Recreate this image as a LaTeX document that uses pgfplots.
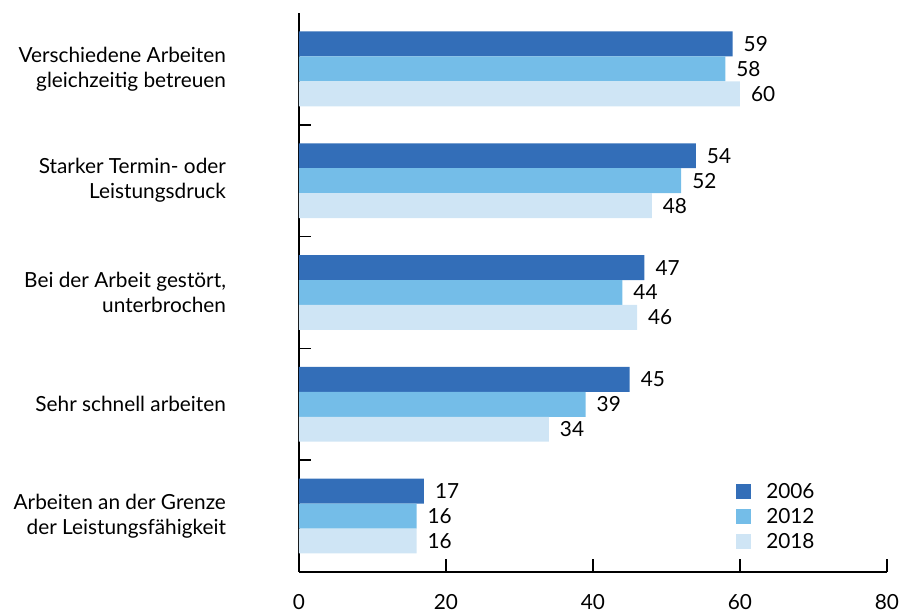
\documentclass[border=0pt]{standalone}
\usepackage{pgfplots}
\pgfplotsset{compat=1.18}
\usepackage{fontspec}
\setmainfont{Lato}
\definecolor{c06}{HTML}{336EB8}
\definecolor{c12}{HTML}{74BDE8}
\definecolor{c18}{HTML}{CFE5F5}
\begin{document}
\begin{tikzpicture}
\useasboundingbox (-149.5pt,-20.5pt) rectangle (301pt,286pt);
\begin{axis}[
  at={(0,0)}, anchor=south west,
  width=294pt, height=279.5pt, scale only axis,
  xbar, bar width=0.223,
  xmin=0, xmax=80, ymin=-0.5, ymax=4.5,
  axis x line*=bottom, axis y line*=left,
  axis line style={-, line width=0.75pt, black},
  tick align=inside,
  xtick={0,20,40,60,80},
  ytick={0,1,2,3,4},
  minor ytick={0.5,1.5,2.5,3.5},
  yticklabels={{Arbeiten an der Grenze\\der Leistungsfähigkeit},{Sehr schnell arbeiten},{Bei der Arbeit gestört,\\unterbrochen},{Starker Termin- oder\\Leistungsdruck},{Verschiedene Arbeiten\\gleichzeitig betreuen}},
  major y tick style={draw=none},
  major tick length=6.5pt, minor tick length=6pt,
  tick style={black, line width=0.75pt},
  /pgf/number format/assume math mode=true,
  xticklabel style={font=\fontsize{10.4}{12}\selectfont, yshift=-7.5pt},
  yticklabel style={font=\fontsize{10.4}{12.5}\selectfont, align=right, xshift=-33pt},
  point meta=x,
  nodes near coords,
  nodes near coords style={font=\fontsize{10.4}{12}\selectfont, anchor=west, xshift=2pt, /pgf/number format/assume math mode=true},
  legend style={draw=none, fill=none, at={(0.743,0.166)}, anchor=north west, inner sep=0pt,
    font=\fontsize{10.4}{12}\selectfont,
    nodes={inner sep=2.5pt, text height=7pt, text depth=0pt},
    row sep=0.4pt,
    /tikz/every odd column/.append style={column sep=5pt}},
  legend cell align=left,
  legend image code/.code={\draw[#1,draw=none] (0pt,-3.75pt) rectangle (7.5pt,3.75pt);},
]
\addplot[fill=c06, draw=none, bar shift=0.223] coordinates {(17,0) (45,1) (47,2) (54,3) (59,4)};
\addplot[fill=c12, draw=none, bar shift=0] coordinates {(16,0) (39,1) (44,2) (52,3) (58,4)};
\addplot[fill=c18, draw=none, bar shift=-0.223] coordinates {(16,0) (34,1) (46,2) (48,3) (60,4)};
\legend{2006,2012,2018}
\end{axis}
\end{tikzpicture}
\end{document}
